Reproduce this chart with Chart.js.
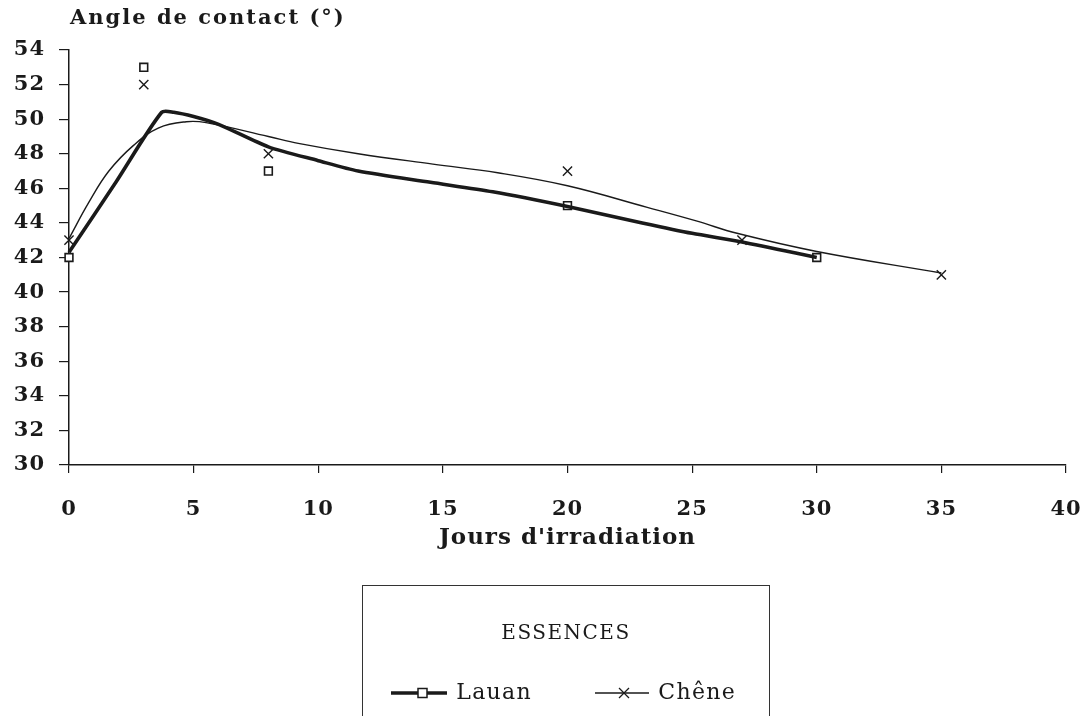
<!DOCTYPE html>
<html><head><meta charset="utf-8">
<script src="https://cdn.jsdelivr.net/npm/chart.js@4.4.1/dist/chart.umd.min.js"></script>
<style>
html,body{margin:0;padding:0;background:#fff;width:1081px;height:716px;overflow:hidden;position:relative;font-family:"DejaVu Serif",serif;color:#1a1a1a}
#c{position:absolute;left:0;top:0}
#ytitle{position:absolute;left:70px;top:4px;font-weight:bold;font-size:21px;letter-spacing:2px;white-space:nowrap}
#legend{position:absolute;left:362px;top:585px;width:406px;height:140px;border:1.5px solid #333;border-bottom:none}
#legend .t{position:absolute;left:0;right:0;top:34px;text-align:center;font-size:20px;letter-spacing:1.5px}
#legend .it{position:absolute;top:93px;font-size:22px;letter-spacing:1.3px;white-space:nowrap}
#legend svg{vertical-align:middle}
</style></head>
<body>
<canvas id="c" width="1081" height="716"></canvas>
<div id="ytitle">Angle de contact (°)</div>
<div id="legend">
  <div class="t">ESSENCES</div>
  <div class="it" style="left:27px"><svg width="58" height="16"><line x1="1" y1="8" x2="57" y2="8" stroke="#1a1a1a" stroke-width="3.5"/><rect x="28" y="3.5" width="9" height="9" fill="#fff" stroke="#1a1a1a" stroke-width="1.5"/></svg> Lauan</div>
  <div class="it" style="left:231px"><svg width="56" height="16"><line x1="1" y1="8" x2="55" y2="8" stroke="#1a1a1a" stroke-width="1.3"/><line x1="25" y1="3" x2="35" y2="13" stroke="#1a1a1a" stroke-width="1.3"/><line x1="35" y1="3" x2="25" y2="13" stroke="#1a1a1a" stroke-width="1.3"/></svg> Chêne</div>
</div>
<script>
// Measured points
const lauanX = [0, 3, 8, 20, 30];
const lauanY = [42, 53, 47, 45, 42];
const cheneX = [0, 3, 8, 20, 27, 35];
const cheneY = [43, 52, 48, 47, 43, 41];
// Fitted curves
const lauanFitX = [0, 1.9, 3.72, 4.2, 5, 6, 8, 10, 11.6, 14.5, 17, 20, 23, 25, 27, 30];
const lauanFitY = [42.3, 46.4, 50.4, 50.4, 50.15, 49.7, 48.4, 47.6, 47.0, 46.35, 45.8, 44.95, 44.0, 43.4, 42.9, 42.0];
const cheneFitX = [0, 0.8, 1.6, 2.6, 3.6, 4.7, 5.5, 8, 9.2, 11.6, 14.6, 17.2, 20, 23.2, 25.2, 26.8, 30, 35];
const cheneFitY = [43.1, 45.2, 47.0, 48.5, 49.5, 49.85, 49.8, 49.0, 48.6, 48.0, 47.4, 46.9, 46.15, 44.9, 44.1, 43.4, 42.35, 41.1];
// Axes
const xMin = 0, xMax = 40, xStep = 5;
const yMin = 30, yMax = 54, yStep = 2;

const zip = (xs, ys) => xs.map((x, i) => ({x, y: ys[i]}));
const ink = '#1a1a1a';
const tickFont = {family: '"DejaVu Serif", serif', weight: 'bold', size: 21};

const spacing = {id: 'spacing', beforeDraw(chart) { try { chart.ctx.letterSpacing = '1px'; } catch (e) {} }};

new Chart(document.getElementById('c'), {
  type: 'scatter',
  plugins: [spacing],
  data: {datasets: [
    {label: 'Lauan fit', data: zip(lauanFitX, lauanFitY), showLine: true, borderColor: ink, borderWidth: 3.6, pointRadius: 0, tension: 0.25, clip: false},
    {label: 'Chêne fit', data: zip(cheneFitX, cheneFitY), showLine: true, borderColor: ink, borderWidth: 1.4, pointRadius: 0, tension: 0.4, clip: false},
    {label: 'Lauan', data: zip(lauanX, lauanY), showLine: false, pointStyle: 'rect', pointRadius: 5.5, borderColor: ink, backgroundColor: '#fff', pointBorderWidth: 1.6, clip: false},
    {label: 'Chêne', data: zip(cheneX, cheneY), showLine: false, pointStyle: 'crossRot', pointRadius: 6.5, borderColor: ink, pointBorderWidth: 1.4, clip: false}
  ]},
  options: {
    responsive: false, animation: false, devicePixelRatio: 1,
    layout: {padding: {left: 0, top: 50, right: 15, bottom: 161}, autoPadding: false},
    plugins: {legend: {display: false}, tooltip: {enabled: false}},
    scales: {
      x: {
        type: 'linear', min: xMin, max: xMax,
        ticks: {stepSize: xStep, color: ink, font: tickFont, padding: 24, maxRotation: 0},
        grid: {drawOnChartArea: false, drawTicks: true, tickLength: 8, color: ink, lineWidth: 1.2},
        border: {display: true, color: ink, width: 1.5},
        title: {display: true, text: "Jours d'irradiation", color: ink, font: {family: '"DejaVu Serif", serif', weight: 'bold', size: 23}, padding: {top: 0, bottom: 3}},
        afterFit: s => { s.height = 90; s.paddingLeft = 0; s.paddingRight = 0; }
      },
      y: {
        type: 'linear', min: yMin, max: yMax,
        ticks: {stepSize: yStep, color: ink, font: tickFont, padding: 14},
        grid: {drawOnChartArea: false, drawTicks: true, tickLength: 10, color: ink, lineWidth: 1.2},
        border: {display: true, color: ink, width: 1.5},
        afterFit: s => { s.width = 69; s.paddingTop = 0; s.paddingBottom = 0; }
      }
    }
  }
});
</script>
</body></html>
